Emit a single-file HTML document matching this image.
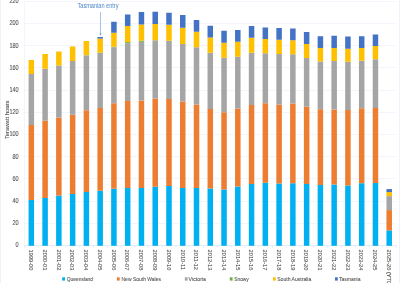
<!DOCTYPE html><html><head><meta charset="utf-8"><style>html,body{margin:0;padding:0;background:#fff;width:400px;height:283px;overflow:hidden}svg{display:block;will-change:transform}</style></head><body>
<svg width="400" height="283" viewBox="0 0 400 283">
<rect x="0" y="0" width="400" height="283" fill="#fff"/>
<rect x="0" y="0" width="1" height="283" fill="#EEF2FA"/>
<rect x="399" y="0" width="1" height="283" fill="#EEF2FA"/>
<line x1="24.0" y1="245.50" x2="396.0" y2="245.50" stroke="#F2F5FC" stroke-width="1"/>
<line x1="24.0" y1="223.50" x2="396.0" y2="223.50" stroke="#F2F5FC" stroke-width="1"/>
<line x1="24.0" y1="201.50" x2="396.0" y2="201.50" stroke="#F2F5FC" stroke-width="1"/>
<line x1="24.0" y1="178.50" x2="396.0" y2="178.50" stroke="#F2F5FC" stroke-width="1"/>
<line x1="24.0" y1="156.50" x2="396.0" y2="156.50" stroke="#F2F5FC" stroke-width="1"/>
<line x1="24.0" y1="134.50" x2="396.0" y2="134.50" stroke="#F2F5FC" stroke-width="1"/>
<line x1="24.0" y1="112.50" x2="396.0" y2="112.50" stroke="#F2F5FC" stroke-width="1"/>
<line x1="24.0" y1="90.50" x2="396.0" y2="90.50" stroke="#F2F5FC" stroke-width="1"/>
<line x1="24.0" y1="67.50" x2="396.0" y2="67.50" stroke="#F2F5FC" stroke-width="1"/>
<line x1="24.0" y1="45.50" x2="396.0" y2="45.50" stroke="#F2F5FC" stroke-width="1"/>
<line x1="24.0" y1="23.50" x2="396.0" y2="23.50" stroke="#F2F5FC" stroke-width="1"/>
<line x1="24.0" y1="1.50" x2="396.0" y2="1.50" stroke="#F2F5FC" stroke-width="1"/>
<line x1="24.5" y1="1" x2="24.5" y2="245.4" stroke="#F2F5FC" stroke-width="1"/>
<line x1="24.50" y1="245.4" x2="24.50" y2="247.6" stroke="#E6ECF6" stroke-width="1"/>
<line x1="38.28" y1="245.4" x2="38.28" y2="247.6" stroke="#E6ECF6" stroke-width="1"/>
<line x1="52.06" y1="245.4" x2="52.06" y2="247.6" stroke="#E6ECF6" stroke-width="1"/>
<line x1="65.83" y1="245.4" x2="65.83" y2="247.6" stroke="#E6ECF6" stroke-width="1"/>
<line x1="79.61" y1="245.4" x2="79.61" y2="247.6" stroke="#E6ECF6" stroke-width="1"/>
<line x1="93.39" y1="245.4" x2="93.39" y2="247.6" stroke="#E6ECF6" stroke-width="1"/>
<line x1="107.17" y1="245.4" x2="107.17" y2="247.6" stroke="#E6ECF6" stroke-width="1"/>
<line x1="120.94" y1="245.4" x2="120.94" y2="247.6" stroke="#E6ECF6" stroke-width="1"/>
<line x1="134.72" y1="245.4" x2="134.72" y2="247.6" stroke="#E6ECF6" stroke-width="1"/>
<line x1="148.50" y1="245.4" x2="148.50" y2="247.6" stroke="#E6ECF6" stroke-width="1"/>
<line x1="162.28" y1="245.4" x2="162.28" y2="247.6" stroke="#E6ECF6" stroke-width="1"/>
<line x1="176.06" y1="245.4" x2="176.06" y2="247.6" stroke="#E6ECF6" stroke-width="1"/>
<line x1="189.83" y1="245.4" x2="189.83" y2="247.6" stroke="#E6ECF6" stroke-width="1"/>
<line x1="203.61" y1="245.4" x2="203.61" y2="247.6" stroke="#E6ECF6" stroke-width="1"/>
<line x1="217.39" y1="245.4" x2="217.39" y2="247.6" stroke="#E6ECF6" stroke-width="1"/>
<line x1="231.17" y1="245.4" x2="231.17" y2="247.6" stroke="#E6ECF6" stroke-width="1"/>
<line x1="244.94" y1="245.4" x2="244.94" y2="247.6" stroke="#E6ECF6" stroke-width="1"/>
<line x1="258.72" y1="245.4" x2="258.72" y2="247.6" stroke="#E6ECF6" stroke-width="1"/>
<line x1="272.50" y1="245.4" x2="272.50" y2="247.6" stroke="#E6ECF6" stroke-width="1"/>
<line x1="286.28" y1="245.4" x2="286.28" y2="247.6" stroke="#E6ECF6" stroke-width="1"/>
<line x1="300.06" y1="245.4" x2="300.06" y2="247.6" stroke="#E6ECF6" stroke-width="1"/>
<line x1="313.83" y1="245.4" x2="313.83" y2="247.6" stroke="#E6ECF6" stroke-width="1"/>
<line x1="327.61" y1="245.4" x2="327.61" y2="247.6" stroke="#E6ECF6" stroke-width="1"/>
<line x1="341.39" y1="245.4" x2="341.39" y2="247.6" stroke="#E6ECF6" stroke-width="1"/>
<line x1="355.17" y1="245.4" x2="355.17" y2="247.6" stroke="#E6ECF6" stroke-width="1"/>
<line x1="368.94" y1="245.4" x2="368.94" y2="247.6" stroke="#E6ECF6" stroke-width="1"/>
<line x1="382.72" y1="245.4" x2="382.72" y2="247.6" stroke="#E6ECF6" stroke-width="1"/>
<line x1="396.50" y1="245.4" x2="396.50" y2="247.6" stroke="#E6ECF6" stroke-width="1"/>
<line x1="24.0" y1="245.5" x2="396.0" y2="245.5" stroke="#E6ECF6" stroke-width="1"/>
<rect x="28.58" y="200.00" width="5.5" height="45.80" fill="#00B0F0"/>
<rect x="28.58" y="125.00" width="5.5" height="75.00" fill="#ED7D31"/>
<rect x="28.58" y="74.00" width="5.5" height="51.00" fill="#A5A5A5"/>
<rect x="28.58" y="60.00" width="5.5" height="14.00" fill="#FFC000"/>
<rect x="42.35" y="198.00" width="5.5" height="47.80" fill="#00B0F0"/>
<rect x="42.35" y="120.75" width="5.5" height="77.25" fill="#ED7D31"/>
<rect x="42.35" y="68.75" width="5.5" height="52.00" fill="#A5A5A5"/>
<rect x="42.35" y="54.00" width="5.5" height="14.75" fill="#FFC000"/>
<rect x="56.11" y="195.50" width="5.5" height="50.30" fill="#00B0F0"/>
<rect x="56.11" y="117.50" width="5.5" height="78.00" fill="#ED7D31"/>
<rect x="56.11" y="65.50" width="5.5" height="52.00" fill="#A5A5A5"/>
<rect x="56.11" y="51.50" width="5.5" height="14.00" fill="#FFC000"/>
<rect x="69.88" y="194.00" width="5.5" height="51.80" fill="#00B0F0"/>
<rect x="69.88" y="114.75" width="5.5" height="79.25" fill="#ED7D31"/>
<rect x="69.88" y="61.00" width="5.5" height="53.75" fill="#A5A5A5"/>
<rect x="69.88" y="46.50" width="5.5" height="14.50" fill="#FFC000"/>
<rect x="83.64" y="192.00" width="5.5" height="53.80" fill="#00B0F0"/>
<rect x="83.64" y="110.25" width="5.5" height="81.75" fill="#ED7D31"/>
<rect x="83.64" y="55.50" width="5.5" height="54.75" fill="#A5A5A5"/>
<rect x="83.64" y="55.20" width="5.5" height="0.30" fill="#70AD47"/>
<rect x="83.64" y="41.00" width="5.5" height="14.20" fill="#FFC000"/>
<rect x="97.41" y="190.75" width="5.5" height="55.05" fill="#00B0F0"/>
<rect x="97.41" y="108.00" width="5.5" height="82.75" fill="#ED7D31"/>
<rect x="97.41" y="53.00" width="5.5" height="55.00" fill="#A5A5A5"/>
<rect x="97.41" y="52.60" width="5.5" height="0.40" fill="#70AD47"/>
<rect x="97.41" y="38.60" width="5.5" height="14.00" fill="#FFC000"/>
<rect x="97.41" y="37.00" width="5.5" height="1.60" fill="#4472C4"/>
<rect x="111.17" y="188.75" width="5.5" height="57.05" fill="#00B0F0"/>
<rect x="111.17" y="103.25" width="5.5" height="85.50" fill="#ED7D31"/>
<rect x="111.17" y="47.20" width="5.5" height="56.05" fill="#A5A5A5"/>
<rect x="111.17" y="46.80" width="5.5" height="0.40" fill="#70AD47"/>
<rect x="111.17" y="32.75" width="5.5" height="14.05" fill="#FFC000"/>
<rect x="111.17" y="21.75" width="5.5" height="11.00" fill="#4472C4"/>
<rect x="124.94" y="188.00" width="5.5" height="57.80" fill="#00B0F0"/>
<rect x="124.94" y="101.00" width="5.5" height="87.00" fill="#ED7D31"/>
<rect x="124.94" y="43.30" width="5.5" height="57.70" fill="#A5A5A5"/>
<rect x="124.94" y="42.10" width="5.5" height="1.20" fill="#70AD47"/>
<rect x="124.94" y="26.00" width="5.5" height="16.10" fill="#FFC000"/>
<rect x="124.94" y="14.50" width="5.5" height="11.50" fill="#4472C4"/>
<rect x="138.70" y="188.00" width="5.5" height="57.80" fill="#00B0F0"/>
<rect x="138.70" y="100.50" width="5.5" height="87.50" fill="#ED7D31"/>
<rect x="138.70" y="41.80" width="5.5" height="58.70" fill="#A5A5A5"/>
<rect x="138.70" y="40.60" width="5.5" height="1.20" fill="#70AD47"/>
<rect x="138.70" y="24.50" width="5.5" height="16.10" fill="#FFC000"/>
<rect x="138.70" y="12.00" width="5.5" height="12.50" fill="#4472C4"/>
<rect x="152.47" y="186.75" width="5.5" height="59.05" fill="#00B0F0"/>
<rect x="152.47" y="98.50" width="5.5" height="88.25" fill="#ED7D31"/>
<rect x="152.47" y="40.25" width="5.5" height="58.25" fill="#A5A5A5"/>
<rect x="152.47" y="24.00" width="5.5" height="16.25" fill="#FFC000"/>
<rect x="152.47" y="11.75" width="5.5" height="12.25" fill="#4472C4"/>
<rect x="166.23" y="186.00" width="5.5" height="59.80" fill="#00B0F0"/>
<rect x="166.23" y="99.00" width="5.5" height="87.00" fill="#ED7D31"/>
<rect x="166.23" y="40.75" width="5.5" height="58.25" fill="#A5A5A5"/>
<rect x="166.23" y="24.75" width="5.5" height="16.00" fill="#FFC000"/>
<rect x="166.23" y="12.75" width="5.5" height="12.00" fill="#4472C4"/>
<rect x="180.00" y="188.00" width="5.5" height="57.80" fill="#00B0F0"/>
<rect x="180.00" y="101.50" width="5.5" height="86.50" fill="#ED7D31"/>
<rect x="180.00" y="44.00" width="5.5" height="57.50" fill="#A5A5A5"/>
<rect x="180.00" y="27.75" width="5.5" height="16.25" fill="#FFC000"/>
<rect x="180.00" y="15.00" width="5.5" height="12.75" fill="#4472C4"/>
<rect x="193.76" y="188.00" width="5.5" height="57.80" fill="#00B0F0"/>
<rect x="193.76" y="104.50" width="5.5" height="83.50" fill="#ED7D31"/>
<rect x="193.76" y="47.25" width="5.5" height="57.25" fill="#A5A5A5"/>
<rect x="193.76" y="31.75" width="5.5" height="15.50" fill="#FFC000"/>
<rect x="193.76" y="20.00" width="5.5" height="11.75" fill="#4472C4"/>
<rect x="207.53" y="188.50" width="5.5" height="57.30" fill="#00B0F0"/>
<rect x="207.53" y="109.00" width="5.5" height="79.50" fill="#ED7D31"/>
<rect x="207.53" y="52.75" width="5.5" height="56.25" fill="#A5A5A5"/>
<rect x="207.53" y="37.50" width="5.5" height="15.25" fill="#FFC000"/>
<rect x="207.53" y="25.75" width="5.5" height="11.75" fill="#4472C4"/>
<rect x="221.29" y="189.50" width="5.5" height="56.30" fill="#00B0F0"/>
<rect x="221.29" y="112.25" width="5.5" height="77.25" fill="#ED7D31"/>
<rect x="221.29" y="57.75" width="5.5" height="54.50" fill="#A5A5A5"/>
<rect x="221.29" y="42.75" width="5.5" height="15.00" fill="#FFC000"/>
<rect x="221.29" y="30.75" width="5.5" height="12.00" fill="#4472C4"/>
<rect x="235.05" y="186.50" width="5.5" height="59.30" fill="#00B0F0"/>
<rect x="235.05" y="108.50" width="5.5" height="78.00" fill="#ED7D31"/>
<rect x="235.05" y="56.75" width="5.5" height="51.75" fill="#A5A5A5"/>
<rect x="235.05" y="41.75" width="5.5" height="15.00" fill="#FFC000"/>
<rect x="235.05" y="30.00" width="5.5" height="11.75" fill="#4472C4"/>
<rect x="248.82" y="184.00" width="5.5" height="61.80" fill="#00B0F0"/>
<rect x="248.82" y="105.00" width="5.5" height="79.00" fill="#ED7D31"/>
<rect x="248.82" y="52.75" width="5.5" height="52.25" fill="#A5A5A5"/>
<rect x="248.82" y="37.75" width="5.5" height="15.00" fill="#FFC000"/>
<rect x="248.82" y="26.00" width="5.5" height="11.75" fill="#4472C4"/>
<rect x="262.58" y="182.75" width="5.5" height="63.05" fill="#00B0F0"/>
<rect x="262.58" y="103.25" width="5.5" height="79.50" fill="#ED7D31"/>
<rect x="262.58" y="53.25" width="5.5" height="50.00" fill="#A5A5A5"/>
<rect x="262.58" y="39.00" width="5.5" height="14.25" fill="#FFC000"/>
<rect x="262.58" y="27.50" width="5.5" height="11.50" fill="#4472C4"/>
<rect x="276.35" y="183.50" width="5.5" height="62.30" fill="#00B0F0"/>
<rect x="276.35" y="104.50" width="5.5" height="79.00" fill="#ED7D31"/>
<rect x="276.35" y="54.00" width="5.5" height="50.50" fill="#A5A5A5"/>
<rect x="276.35" y="39.75" width="5.5" height="14.25" fill="#FFC000"/>
<rect x="276.35" y="28.00" width="5.5" height="11.75" fill="#4472C4"/>
<rect x="290.11" y="183.25" width="5.5" height="62.55" fill="#00B0F0"/>
<rect x="290.11" y="103.50" width="5.5" height="79.75" fill="#ED7D31"/>
<rect x="290.11" y="54.25" width="5.5" height="49.25" fill="#A5A5A5"/>
<rect x="290.11" y="40.25" width="5.5" height="14.00" fill="#FFC000"/>
<rect x="290.11" y="28.50" width="5.5" height="11.75" fill="#4472C4"/>
<rect x="303.88" y="184.00" width="5.5" height="61.80" fill="#00B0F0"/>
<rect x="303.88" y="106.75" width="5.5" height="77.25" fill="#ED7D31"/>
<rect x="303.88" y="58.00" width="5.5" height="48.75" fill="#A5A5A5"/>
<rect x="303.88" y="44.00" width="5.5" height="14.00" fill="#FFC000"/>
<rect x="303.88" y="32.00" width="5.5" height="12.00" fill="#4472C4"/>
<rect x="317.64" y="185.00" width="5.5" height="60.80" fill="#00B0F0"/>
<rect x="317.64" y="109.25" width="5.5" height="75.75" fill="#ED7D31"/>
<rect x="317.64" y="61.50" width="5.5" height="47.75" fill="#A5A5A5"/>
<rect x="317.64" y="48.00" width="5.5" height="13.50" fill="#FFC000"/>
<rect x="317.64" y="36.25" width="5.5" height="11.75" fill="#4472C4"/>
<rect x="331.41" y="184.50" width="5.5" height="61.30" fill="#00B0F0"/>
<rect x="331.41" y="109.50" width="5.5" height="75.00" fill="#ED7D31"/>
<rect x="331.41" y="61.00" width="5.5" height="48.50" fill="#A5A5A5"/>
<rect x="331.41" y="48.00" width="5.5" height="13.00" fill="#FFC000"/>
<rect x="331.41" y="35.75" width="5.5" height="12.25" fill="#4472C4"/>
<rect x="345.17" y="185.50" width="5.5" height="60.30" fill="#00B0F0"/>
<rect x="345.17" y="110.00" width="5.5" height="75.50" fill="#ED7D31"/>
<rect x="345.17" y="61.75" width="5.5" height="48.25" fill="#A5A5A5"/>
<rect x="345.17" y="48.75" width="5.5" height="13.00" fill="#FFC000"/>
<rect x="345.17" y="36.50" width="5.5" height="12.25" fill="#4472C4"/>
<rect x="358.94" y="183.25" width="5.5" height="62.55" fill="#00B0F0"/>
<rect x="358.94" y="108.25" width="5.5" height="75.00" fill="#ED7D31"/>
<rect x="358.94" y="60.75" width="5.5" height="47.50" fill="#A5A5A5"/>
<rect x="358.94" y="48.00" width="5.5" height="12.75" fill="#FFC000"/>
<rect x="358.94" y="36.25" width="5.5" height="11.75" fill="#4472C4"/>
<rect x="372.70" y="183.00" width="5.5" height="62.80" fill="#00B0F0"/>
<rect x="372.70" y="108.00" width="5.5" height="75.00" fill="#ED7D31"/>
<rect x="372.70" y="59.25" width="5.5" height="48.75" fill="#A5A5A5"/>
<rect x="372.70" y="46.00" width="5.5" height="13.25" fill="#FFC000"/>
<rect x="372.70" y="34.50" width="5.5" height="11.50" fill="#4472C4"/>
<rect x="386.47" y="230.40" width="5.5" height="15.40" fill="#00B0F0"/>
<rect x="386.47" y="210.10" width="5.5" height="20.30" fill="#ED7D31"/>
<rect x="386.47" y="196.10" width="5.5" height="14.00" fill="#A5A5A5"/>
<rect x="386.47" y="192.10" width="5.5" height="4.00" fill="#FFC000"/>
<rect x="386.47" y="189.10" width="5.5" height="3.00" fill="#4472C4"/>
<text transform="translate(18.7,247.40) scale(0.88,1)" font-family='"Liberation Sans", sans-serif' font-size="6.3" fill="#565656" stroke="#565656" stroke-width="0.1" text-anchor="end">0</text>
<text transform="translate(18.7,225.21) scale(0.88,1)" font-family='"Liberation Sans", sans-serif' font-size="6.3" fill="#565656" stroke="#565656" stroke-width="0.1" text-anchor="end">20</text>
<text transform="translate(18.7,203.02) scale(0.88,1)" font-family='"Liberation Sans", sans-serif' font-size="6.3" fill="#565656" stroke="#565656" stroke-width="0.1" text-anchor="end">40</text>
<text transform="translate(18.7,180.83) scale(0.88,1)" font-family='"Liberation Sans", sans-serif' font-size="6.3" fill="#565656" stroke="#565656" stroke-width="0.1" text-anchor="end">60</text>
<text transform="translate(18.7,158.64) scale(0.88,1)" font-family='"Liberation Sans", sans-serif' font-size="6.3" fill="#565656" stroke="#565656" stroke-width="0.1" text-anchor="end">80</text>
<text transform="translate(18.7,136.45) scale(0.88,1)" font-family='"Liberation Sans", sans-serif' font-size="6.3" fill="#565656" stroke="#565656" stroke-width="0.1" text-anchor="end">100</text>
<text transform="translate(18.7,114.25) scale(0.88,1)" font-family='"Liberation Sans", sans-serif' font-size="6.3" fill="#565656" stroke="#565656" stroke-width="0.1" text-anchor="end">120</text>
<text transform="translate(18.7,92.06) scale(0.88,1)" font-family='"Liberation Sans", sans-serif' font-size="6.3" fill="#565656" stroke="#565656" stroke-width="0.1" text-anchor="end">140</text>
<text transform="translate(18.7,69.87) scale(0.88,1)" font-family='"Liberation Sans", sans-serif' font-size="6.3" fill="#565656" stroke="#565656" stroke-width="0.1" text-anchor="end">160</text>
<text transform="translate(18.7,47.68) scale(0.88,1)" font-family='"Liberation Sans", sans-serif' font-size="6.3" fill="#565656" stroke="#565656" stroke-width="0.1" text-anchor="end">180</text>
<text transform="translate(18.7,25.49) scale(0.88,1)" font-family='"Liberation Sans", sans-serif' font-size="6.3" fill="#565656" stroke="#565656" stroke-width="0.1" text-anchor="end">200</text>
<text transform="translate(18.7,3.30) scale(0.88,1)" font-family='"Liberation Sans", sans-serif' font-size="6.3" fill="#565656" stroke="#565656" stroke-width="0.1" text-anchor="end">220</text>
<text transform="translate(8.8,119.8) rotate(-90)" font-family='"Liberation Sans", sans-serif' font-size="6.1" fill="#565656" stroke="#565656" stroke-width="0.1" text-anchor="middle" textLength="38.6" lengthAdjust="spacingAndGlyphs">Terawatt hours</text>
<text transform="translate(29.13,249.6) rotate(90) scale(0.96,1)" font-family='"Liberation Sans", sans-serif' font-size="5.9" fill="#565656" stroke="#565656" stroke-width="0.1">1999-00</text>
<text transform="translate(42.90,249.6) rotate(90) scale(0.96,1)" font-family='"Liberation Sans", sans-serif' font-size="5.9" fill="#565656" stroke="#565656" stroke-width="0.1">2000-01</text>
<text transform="translate(56.66,249.6) rotate(90) scale(0.96,1)" font-family='"Liberation Sans", sans-serif' font-size="5.9" fill="#565656" stroke="#565656" stroke-width="0.1">2001-02</text>
<text transform="translate(70.43,249.6) rotate(90) scale(0.96,1)" font-family='"Liberation Sans", sans-serif' font-size="5.9" fill="#565656" stroke="#565656" stroke-width="0.1">2002-03</text>
<text transform="translate(84.19,249.6) rotate(90) scale(0.96,1)" font-family='"Liberation Sans", sans-serif' font-size="5.9" fill="#565656" stroke="#565656" stroke-width="0.1">2003-04</text>
<text transform="translate(97.96,249.6) rotate(90) scale(0.96,1)" font-family='"Liberation Sans", sans-serif' font-size="5.9" fill="#565656" stroke="#565656" stroke-width="0.1">2004-05</text>
<text transform="translate(111.72,249.6) rotate(90) scale(0.96,1)" font-family='"Liberation Sans", sans-serif' font-size="5.9" fill="#565656" stroke="#565656" stroke-width="0.1">2005-06</text>
<text transform="translate(125.49,249.6) rotate(90) scale(0.96,1)" font-family='"Liberation Sans", sans-serif' font-size="5.9" fill="#565656" stroke="#565656" stroke-width="0.1">2006-07</text>
<text transform="translate(139.25,249.6) rotate(90) scale(0.96,1)" font-family='"Liberation Sans", sans-serif' font-size="5.9" fill="#565656" stroke="#565656" stroke-width="0.1">2007-08</text>
<text transform="translate(153.02,249.6) rotate(90) scale(0.96,1)" font-family='"Liberation Sans", sans-serif' font-size="5.9" fill="#565656" stroke="#565656" stroke-width="0.1">2008-09</text>
<text transform="translate(166.78,249.6) rotate(90) scale(0.96,1)" font-family='"Liberation Sans", sans-serif' font-size="5.9" fill="#565656" stroke="#565656" stroke-width="0.1">2009-10</text>
<text transform="translate(180.55,249.6) rotate(90) scale(0.96,1)" font-family='"Liberation Sans", sans-serif' font-size="5.9" fill="#565656" stroke="#565656" stroke-width="0.1">2010-11</text>
<text transform="translate(194.31,249.6) rotate(90) scale(0.96,1)" font-family='"Liberation Sans", sans-serif' font-size="5.9" fill="#565656" stroke="#565656" stroke-width="0.1">2011-12</text>
<text transform="translate(208.08,249.6) rotate(90) scale(0.96,1)" font-family='"Liberation Sans", sans-serif' font-size="5.9" fill="#565656" stroke="#565656" stroke-width="0.1">2012-13</text>
<text transform="translate(221.84,249.6) rotate(90) scale(0.96,1)" font-family='"Liberation Sans", sans-serif' font-size="5.9" fill="#565656" stroke="#565656" stroke-width="0.1">2013-14</text>
<text transform="translate(235.60,249.6) rotate(90) scale(0.96,1)" font-family='"Liberation Sans", sans-serif' font-size="5.9" fill="#565656" stroke="#565656" stroke-width="0.1">2014-15</text>
<text transform="translate(249.37,249.6) rotate(90) scale(0.96,1)" font-family='"Liberation Sans", sans-serif' font-size="5.9" fill="#565656" stroke="#565656" stroke-width="0.1">2015-16</text>
<text transform="translate(263.13,249.6) rotate(90) scale(0.96,1)" font-family='"Liberation Sans", sans-serif' font-size="5.9" fill="#565656" stroke="#565656" stroke-width="0.1">2016-17</text>
<text transform="translate(276.90,249.6) rotate(90) scale(0.96,1)" font-family='"Liberation Sans", sans-serif' font-size="5.9" fill="#565656" stroke="#565656" stroke-width="0.1">2017-18</text>
<text transform="translate(290.66,249.6) rotate(90) scale(0.96,1)" font-family='"Liberation Sans", sans-serif' font-size="5.9" fill="#565656" stroke="#565656" stroke-width="0.1">2018-19</text>
<text transform="translate(304.43,249.6) rotate(90) scale(0.96,1)" font-family='"Liberation Sans", sans-serif' font-size="5.9" fill="#565656" stroke="#565656" stroke-width="0.1">2019-20</text>
<text transform="translate(318.19,249.6) rotate(90) scale(0.96,1)" font-family='"Liberation Sans", sans-serif' font-size="5.9" fill="#565656" stroke="#565656" stroke-width="0.1">2020-21</text>
<text transform="translate(331.96,249.6) rotate(90) scale(0.96,1)" font-family='"Liberation Sans", sans-serif' font-size="5.9" fill="#565656" stroke="#565656" stroke-width="0.1">2021-22</text>
<text transform="translate(345.72,249.6) rotate(90) scale(0.96,1)" font-family='"Liberation Sans", sans-serif' font-size="5.9" fill="#565656" stroke="#565656" stroke-width="0.1">2022-23</text>
<text transform="translate(359.49,249.6) rotate(90) scale(0.96,1)" font-family='"Liberation Sans", sans-serif' font-size="5.9" fill="#565656" stroke="#565656" stroke-width="0.1">2023-24</text>
<text transform="translate(373.25,249.6) rotate(90) scale(0.96,1)" font-family='"Liberation Sans", sans-serif' font-size="5.9" fill="#565656" stroke="#565656" stroke-width="0.1">2024-25</text>
<text transform="translate(387.02,249.6) rotate(90) scale(0.96,1)" font-family='"Liberation Sans", sans-serif' font-size="5.9" fill="#565656" stroke="#565656" stroke-width="0.1">2025-26 (YTD)</text>
<rect x="62.2" y="277.3" width="2.8" height="3.3" fill="#00B0F0"/>
<text x="66.8" y="281.2" font-family='"Liberation Sans", sans-serif' font-size="6" fill="#565656" stroke="#565656" stroke-width="0.1" textLength="26.2" lengthAdjust="spacingAndGlyphs">Queensland</text>
<rect x="116.9" y="277.3" width="2.8" height="3.3" fill="#ED7D31"/>
<text x="121.5" y="281.2" font-family='"Liberation Sans", sans-serif' font-size="6" fill="#565656" stroke="#565656" stroke-width="0.1" textLength="39.5" lengthAdjust="spacingAndGlyphs">New South Wales</text>
<rect x="184.8" y="277.3" width="2.8" height="3.3" fill="#A5A5A5"/>
<text x="188.6" y="281.2" font-family='"Liberation Sans", sans-serif' font-size="6" fill="#565656" stroke="#565656" stroke-width="0.1" textLength="17.4" lengthAdjust="spacingAndGlyphs">Victoria</text>
<rect x="229.8" y="277.3" width="2.8" height="3.3" fill="#70AD47"/>
<text x="234.2" y="281.2" font-family='"Liberation Sans", sans-serif' font-size="6" fill="#565656" stroke="#565656" stroke-width="0.1" textLength="14.6" lengthAdjust="spacingAndGlyphs">Snowy</text>
<rect x="273" y="277.3" width="2.8" height="3.3" fill="#FFC000"/>
<text x="277.25" y="281.2" font-family='"Liberation Sans", sans-serif' font-size="6" fill="#565656" stroke="#565656" stroke-width="0.1" textLength="34" lengthAdjust="spacingAndGlyphs">South Australia</text>
<rect x="335" y="277.3" width="2.8" height="3.3" fill="#4472C4"/>
<text x="339" y="281.2" font-family='"Liberation Sans", sans-serif' font-size="6" fill="#565656" stroke="#565656" stroke-width="0.1" textLength="21.5" lengthAdjust="spacingAndGlyphs">Tasmania</text>
<text x="77.5" y="8.1" font-family='"Liberation Sans", sans-serif' font-size="6.9" fill="#4D86C8" textLength="41" lengthAdjust="spacingAndGlyphs">Tasmanian entry</text>
<line x1="100.5" y1="12" x2="100.5" y2="34" stroke="#A9C3E6" stroke-width="1"/>
<path d="M99.4,33.4 L101.6,33.4 L100.5,35.4 Z" fill="#5A8ED0"/>
</svg></body></html>
